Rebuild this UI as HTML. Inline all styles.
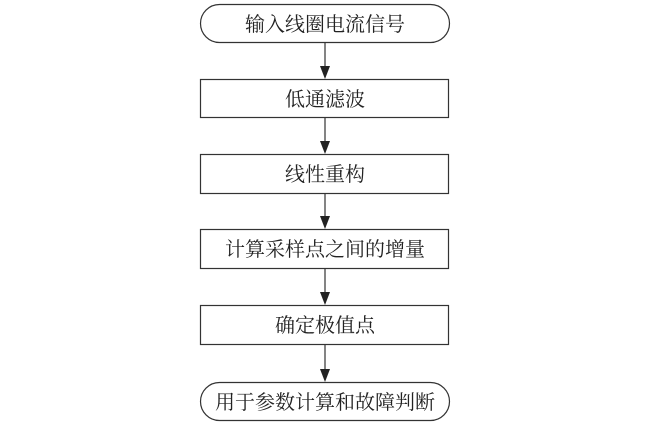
<!DOCTYPE html>
<html><head><meta charset="utf-8"><style>
body{margin:0;background:#fff;}
svg text{font-family:"Liberation Serif","Noto Serif CJK SC",serif;font-size:20px;fill:#222;text-anchor:middle;}
</style></head><body>
<svg width="650" height="425" xmlns="http://www.w3.org/2000/svg">
<g fill="none" stroke="#333" stroke-width="1.2">
<rect x="200.5" y="4.5" width="249" height="38" rx="19"/>
<rect x="200.5" y="79.5" width="248" height="38"/>
<rect x="200.5" y="154.5" width="248" height="39"/>
<rect x="200.5" y="229.5" width="248" height="39"/>
<rect x="200.5" y="305.5" width="248" height="39"/>
<rect x="200.5" y="382.5" width="249" height="38" rx="19"/>
<line x1="325" y1="43" x2="325" y2="70"/>
<line x1="325" y1="118" x2="325" y2="145"/>
<line x1="325" y1="194" x2="325" y2="220"/>
<line x1="325" y1="269" x2="325" y2="296"/>
<line x1="325" y1="345" x2="325" y2="373"/>
</g>
<g fill="#222">
<polygon points="320,66 330,66 325,79"/>
<polygon points="320,141 330,141 325,154"/>
<polygon points="320,216 330,216 325,229"/>
<polygon points="320,292 330,292 325,305"/>
<polygon points="320,369 330,369 325,382"/>
</g>
<text x="325" y="31">输入线圈电流信号</text>
<text x="325" y="106">低通滤波</text>
<text x="325" y="181">线性重构</text>
<text x="325" y="256">计算采样点之间的增量</text>
<text x="325" y="332">确定极值点</text>
<text x="325" y="409">用于参数计算和故障判断</text>
</svg>
</body></html>
